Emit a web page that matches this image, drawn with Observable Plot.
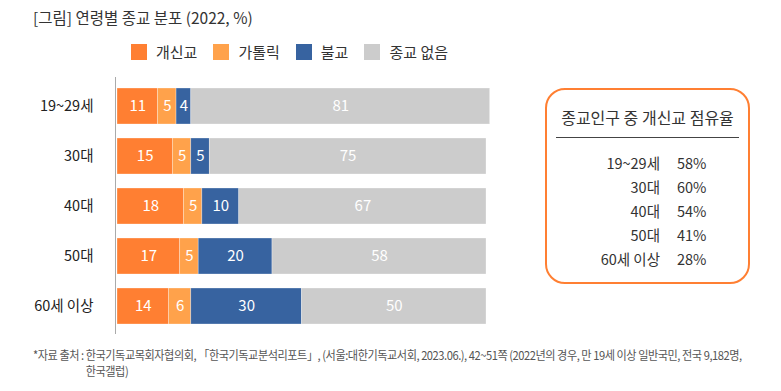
<!DOCTYPE html>
<html>
<head>
<meta charset="utf-8">
<script src="https://cdn.jsdelivr.net/npm/d3@7"></script>
<script src="https://cdn.jsdelivr.net/npm/@observablehq/plot@0.6"></script>
<style>
  html, body { margin: 0; padding: 0; background: #fff; }
  body { width: 781px; height: 391px; position: relative; overflow: hidden;
         font-family: "Noto Sans CJK KR", "Noto Sans", sans-serif; color: #333; }
  .abs { position: absolute; }
  #title { left: 33px; top: 6px; font-size: 15.5px; color: #333; white-space: nowrap; }
  #legend { left: 131px; top: 41px; display: flex; align-items: center; font-size: 15px; color: #333; white-space: nowrap; }
  #legend .item { display: flex; align-items: center; margin-right: 16px; }
  #legend .sw { width: 16px; height: 16px; margin-right: 9px; }
  #chart { left: 0; top: 72px; }
  #box { left: 545px; top: 88px; width: 201px; height: 192px; border: 2px solid #FF7F32; border-radius: 20px; }
  #boxTitle { position: absolute; left: 0; width: 201px; top: 15px; text-align: center; font-size: 16px; color: #333; white-space: nowrap; }
  #boxRule { position: absolute; left: 9px; width: 183px; top: 47px; border-top: 1.3px solid #444; }
  .row { position: absolute; font-size: 14.5px; color: #333; white-space: nowrap; }
  .row .lab { position: absolute; right: 0; text-align: right; }
  #note { left: 33px; top: 347px; font-size: 12px; color: #555; line-height: 16px; white-space: nowrap; letter-spacing: -0.5px; transform: scaleX(0.93); transform-origin: left top; }
  #note .l1 { display: flex; }
  #note .pre { display: inline-block; }
</style>
</head>
<body>
<div id="title" class="abs">[그림] 연령별 종교 분포 (2022, %)</div>
<div id="legend" class="abs"></div>
<div id="chart" class="abs"></div>
<div id="box" class="abs"><div id="boxTitle">종교인구 중 개신교 점유율</div><div id="boxRule"></div></div>
<div id="note" class="abs"><div class="l1"><span class="pre">*자료 출처 :&nbsp;</span><span>한국기독교목회자협의회, 「한국기독교분석리포트」, (서울:대한기독교서회, 2023.06.), 42~51쪽 (2022년의 경우, 만 19세 이상 일반국민, 전국 9,182명,<br>한국갤럽)</span></div></div>
<script>
const ages = ["19~29세", "30대", "40대", "50대", "60세 이상"];
const religions = ["개신교", "가톨릭", "불교", "종교 없음"];
const colors = ["#FF7F32", "#FFA24B", "#3763A0", "#CCCCCC"];
const protestant = [11, 15, 18, 17, 14];
const catholic = [5, 5, 5, 5, 6];
const buddhist = [4, 5, 10, 20, 30];
const noReligion = [81, 75, 67, 58, 50];
const protestantShare = [58, 60, 54, 41, 28];

const series = [protestant, catholic, buddhist, noReligion];
const data = [];
ages.forEach((a, i) => {
  religions.forEach((r, j) => data.push({age: a, religion: r, value: series[j][i]}));
});

const chart = Plot.plot({
  width: 500,
  height: 268,
  marginLeft: 117,
  marginRight: 14,
  marginTop: 0,
  marginBottom: 0,
  style: {fontFamily: '"Noto Sans CJK KR", "Noto Sans", sans-serif', background: "transparent"},
  x: {domain: [0, 100], axis: null},
  y: {domain: ages, padding: 0.29, label: null, tickSize: 0, tickPadding: 24},
  color: {domain: religions, range: colors},
  marks: [
    Plot.barX(data, Plot.stackX({x: "value", y: "age", fill: "religion", order: religions, stroke: "#fff", strokeWidth: 0.6, strokeOpacity: 0.5})),
    Plot.text(data, Plot.stackX({x: "value", y: "age", z: "religion", order: religions, text: d => String(d.value), fill: "#fff", fontSize: 15})),
    Plot.ruleX([0], {x: () => 0, stroke: "#aaa", strokeWidth: 1, insetTop: 5, insetBottom: 6, dx: -2}),
    Plot.axisY({tickSize: 0, tickPadding: 24, fontSize: 14.5, color: "#222", label: null})
  ]
});
chart.querySelectorAll('[aria-label="y-axis tick label"] text').forEach(t => t.setAttribute("fill", "#222"));
document.getElementById("chart").appendChild(chart);

const legend = document.getElementById("legend");
religions.forEach((r, j) => {
  const it = document.createElement("div");
  it.className = "item";
  it.innerHTML = `<span class="sw" style="background:${colors[j]}"></span><span>${r}</span>`;
  legend.appendChild(it);
});

const box = document.getElementById("box");
ages.forEach((a, i) => {
  const y = 62 + i * 24;
  const lab = document.createElement("div");
  lab.className = "row";
  lab.style.top = y + "px";
  lab.style.left = "0px";
  lab.style.width = "113px";
  lab.innerHTML = `<span class="lab">${a}</span>`;
  box.appendChild(lab);
  const val = document.createElement("div");
  val.className = "row";
  val.style.top = y + "px";
  val.style.left = "130px";
  val.textContent = protestantShare[i] + "%";
  box.appendChild(val);
});
</script>
</body>
</html>
